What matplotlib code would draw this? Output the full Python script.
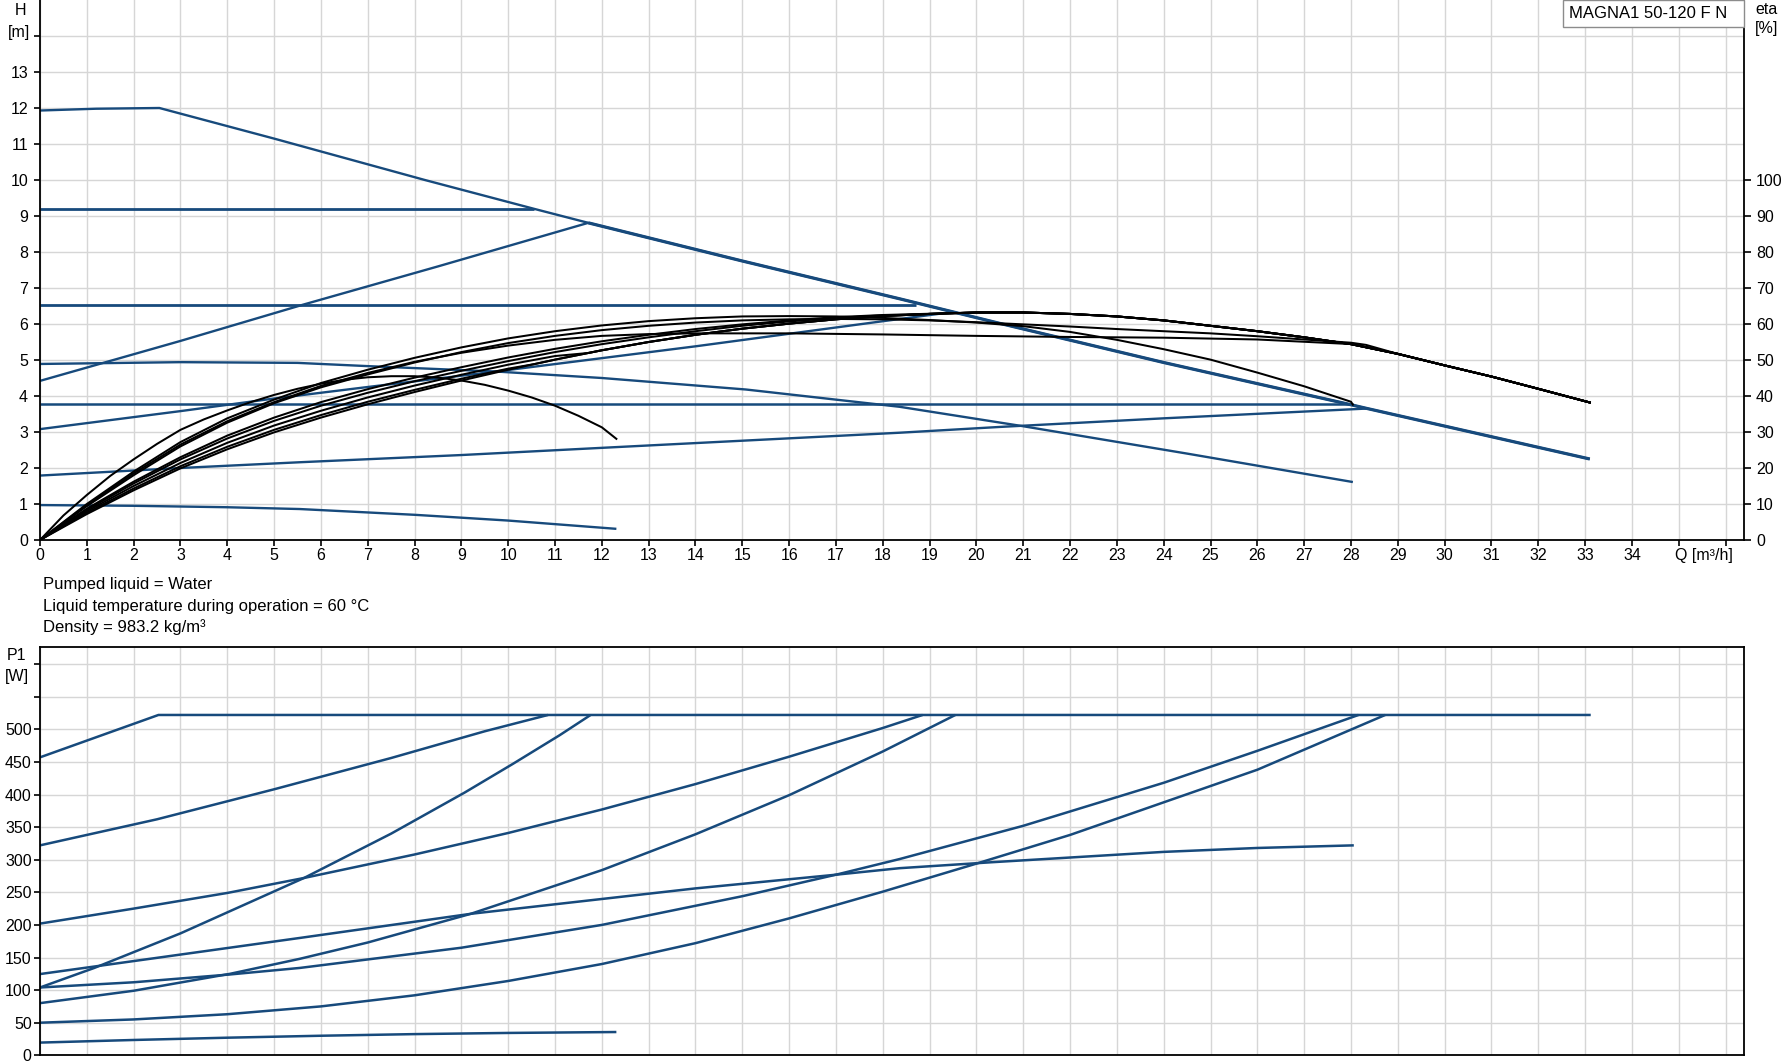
import matplotlib
matplotlib.use('Agg')
import matplotlib.pyplot as plt
from matplotlib.patches import Rectangle

plt.rcParams['font.family'] = ['Liberation Sans', 'DejaVu Sans']

# ---------------- data: head curves H [m] ----------------
q_hmax = [0, 1.2, 2.55, 5, 8.22, 10.55, 11.71, 15, 18.36, 20.49, 24, 27.99, 28.32, 33.1]
h_hmax = [11.93, 11.98, 12.0, 11.15, 10.0, 9.2, 8.81, 7.75, 6.70, 6.02, 4.93, 3.76, 3.66, 2.25]
q_cp92 = [0, 10.55]
h_cp92 = [9.2, 9.2]
q_pp442 = [0, 3, 5.6, 8.5, 11.71]
h_pp442 = [4.42, 5.53, 6.53, 7.6, 8.81]
q_cp655 = [0, 18.7]
h_cp655 = [6.54, 6.54]
q_pp31 = [0, 3, 5, 7, 9.74, 14, 17.9, 19.3]
h_pp31 = [3.08, 3.58, 3.93, 4.25, 4.68, 5.38, 6.06, 6.3]
q_cp38 = [0, 28.04]
h_cp38 = [3.79, 3.79]
q_pp18 = [0, 3, 5.55, 9, 12, 18.36, 20.49, 24, 28.32]
h_pp18 = [1.79, 2.0, 2.16, 2.36, 2.56, 2.98, 3.14, 3.38, 3.65]
q_c49 = [0, 3, 5.5, 7, 9.74, 12, 15.08, 18.36, 21, 24.5, 28.04]
h_c49 = [4.89, 4.94, 4.92, 4.83, 4.68, 4.5, 4.18, 3.7, 3.16, 2.4, 1.61]
q_hmin = [0, 2, 4, 5.55, 8, 10, 12.31]
h_hmin = [0.97, 0.95, 0.91, 0.86, 0.7, 0.54, 0.31]

# ---------------- data: efficiency curves eta [%] ----------------
q_emax = [0, 1, 2, 3, 4, 5, 6, 7, 8, 9, 10, 11, 12, 13, 14, 15, 16, 17, 18, 19, 20,
          21, 22, 23, 24, 25, 26, 27, 28, 29, 30, 31, 32, 33.1]
e_emax = [0, 7.2, 13.8, 19.9, 25.2, 29.9, 34.0, 37.7, 41.1, 44.3, 47.3, 50.1, 52.7, 55.0,
          57.0, 58.7, 60.1, 61.3, 62.2, 62.8, 63.2, 63.2, 62.8, 62.1, 61.0, 59.5, 58.0,
          56.3, 54.4, 51.7, 48.5, 45.4, 42.0, 38.2]
q_ecp92 = [0, 1, 2, 3, 4, 5, 6, 7, 8, 9, 10, 10.55]
e_ecp92 = [0, 7.6, 14.3, 20.5, 25.9, 30.6, 34.7, 38.4, 41.7, 44.8, 47.6, 48.84]
q_epp442 = [0, 1, 2, 3, 4, 5, 6, 7, 8, 9, 10, 11, 11.71]
e_epp442 = [0, 8.0, 15.0, 21.4, 27.0, 31.8, 35.9, 39.6, 42.9, 45.9, 48.7, 51.1, 51.95]
q_ecp655 = [0, 1, 2, 3, 4, 5, 6, 7, 8, 9, 10, 11, 12, 13, 14, 15, 16, 17, 18, 18.7]
e_ecp655 = [0, 8.4, 15.7, 22.4, 28.2, 33.1, 37.3, 40.9, 44.1, 47.0, 49.7, 52.2, 54.4, 56.3,
            58.0, 59.5, 60.7, 61.7, 62.4, 62.62]
q_epp31 = [0, 1, 2, 3, 4, 5, 6, 7, 8, 9, 10, 11, 12, 13, 14, 15, 16, 17, 18, 19, 19.3]
e_epp31 = [0, 8.7, 16.2, 23.0, 29.0, 34.0, 38.3, 41.9, 45.1, 48.0, 50.7, 53.1, 55.2, 57.0,
           58.6, 59.9, 61.0, 61.9, 62.5, 62.85, 62.92]
q_ecp38 = [0, 1, 2, 3, 4, 5, 6, 7, 8, 9, 10, 11, 12, 13, 14, 16, 18, 20, 22, 24, 26, 28.04]
e_ecp38 = [0, 9.7, 18.5, 26.5, 33.0, 38.3, 42.8, 46.4, 49.5, 52.0, 54.0, 55.6, 56.7, 57.2,
           57.4, 57.4, 57.1, 56.7, 56.4, 56.2, 55.7, 54.4]
q_epp18 = [0, 1, 2, 3, 4, 5, 6, 7, 8, 9, 10, 11, 12, 13, 14, 15, 16, 17, 18, 19, 20, 21,
           22, 23, 24, 25, 26, 27, 28, 28.32]
e_epp18 = [0, 9.4, 18.0, 26.0, 32.6, 38.0, 42.4, 46.0, 49.3, 52.2, 54.7, 56.7, 58.3, 59.5,
           60.4, 61.0, 61.3, 61.4, 61.3, 61.0, 60.5, 59.9, 59.3, 58.6, 58.0, 57.4, 56.6,
           55.7, 54.8, 54.2]
q_ec49 = [0, 1, 2, 3, 4, 5, 6, 7, 8, 9, 10, 11, 12, 13, 14, 15, 16, 17, 18, 19, 20, 21,
          22, 23, 24, 25, 26, 27, 28, 28.04]
e_ec49 = [0, 10.0, 19.0, 27.2, 33.8, 39.0, 43.6, 47.3, 50.6, 53.5, 56.0, 58.0, 59.6, 60.8,
          61.6, 62.1, 62.2, 62.1, 61.7, 61.1, 60.4, 59.4, 57.8, 55.6, 53.0, 50.1, 46.5,
          42.7, 38.4, 37.6]
q_emin = [0, 0.5, 1, 1.5, 2, 2.5, 3, 3.5, 4, 4.5, 5, 5.5, 6, 6.5, 7, 7.5, 8, 8.5, 9, 9.5,
          10, 10.5, 11, 11.5, 12, 12.31]
e_emin = [0, 6.8, 12.5, 17.8, 22.4, 26.7, 30.6, 33.5, 36.0, 38.3, 40.3, 42.0, 43.4, 44.5,
          45.2, 45.5, 45.5, 45.1, 44.3, 43.1, 41.5, 39.6, 37.3, 34.5, 31.3, 28.1]

# ---------------- data: power curves P1 [W] ----------------
q_pmax = [0, 2.53, 33.12]
p_pmax = [457, 522, 522]
q_pcp92 = [0, 2.5, 5, 7.5, 9.5, 10.85]
p_pcp92 = [322, 362, 408, 456, 497, 522]
q_ppp442 = [0, 1.16, 3, 5.64, 7.5, 9.07, 10.1, 11.1, 11.76]
p_ppp442 = [104, 134, 187, 272, 340, 403, 447, 491, 522]
q_pcp655 = [0, 2, 4, 5.64, 8, 10, 12, 14, 16, 18, 18.85]
p_pcp655 = [202, 225, 249, 272, 308, 341, 377, 416, 458, 502, 522]
q_ppp31 = [0, 2, 4.06, 5.55, 7, 9.2, 12, 14, 16, 18, 19.55]
p_ppp31 = [80, 99, 125, 148, 173, 217, 284, 339, 399, 466, 522]
q_pcp38 = [0, 2, 4.06, 5.55, 9, 12, 15, 17, 18.36, 21, 24, 26, 28.16]
p_pcp38 = [104, 112, 124, 134, 165, 200, 244, 277, 301, 352, 418, 467, 522]
q_ppp18 = [0, 2, 4, 6, 8, 10, 12, 14, 16, 18, 20, 22, 23.72, 26, 28.73]
p_ppp18 = [50, 55, 63, 75, 92, 114, 140, 172, 210, 251, 294, 338, 381, 438, 522]
q_pc49 = [0, 2.35, 5.55, 9.2, 14, 17, 18.36, 20.3, 24, 26, 28.06]
p_pc49 = [124.6, 148, 180, 217, 256, 277, 287, 296, 312, 318, 322]
q_pmin = [0, 2, 4, 6, 8, 10, 12.31]
p_pmin = [19.5, 23.5, 27, 30, 32.5, 34.3, 35.7]

x_ticks = list(range(0, 37))
x_labels = [str(i) for i in range(35)] + ['', '']
h_ticks = list(range(0, 15))
h_labels = [str(i) for i in range(14)] + ['']
eta_ticks = list(range(0, 101, 10))
p_ticks = list(range(0, 601, 50))
p_labels = [str(v) for v in range(0, 501, 50)] + ['', '']

fluid_lines = ["Pumped liquid = Water",
               "Liquid temperature during operation = 60 \u00b0C",
               "Density = 983.2 kg/m\u00b3"]
title_box = "MAGNA1 50-120 F N"


def with_max_tail(q, e, q_join):
    qq = list(q) + [x for x in q_emax if x > q_join]
    ee = list(e) + [y for x, y in zip(q_emax, e_emax) if x > q_join]
    return qq, ee


# ---------------- figure ----------------
W, H = 1784, 1061
fig = plt.figure(figsize=(W / 100, H / 100), dpi=100)

BLUE = '#174a7c'
GRID = '#d6d6d6'
FS = 11.5
LWB = 1.7
LWK = 1.45

ax = fig.add_axes([40 / W, 1 - 540 / H, 1704.3 / W, 540 / H])
ax.set_xlim(0, 36.4)
ax.set_ylim(0, 15)
ax.set_xticks(x_ticks)
ax.set_xticklabels(x_labels, fontsize=FS)
ax.set_yticks(h_ticks)
ax.set_yticklabels(h_labels, fontsize=FS)
ax.grid(True, color=GRID, lw=1.0)
ax.set_axisbelow(True)
for s in ['top', 'right']:
    ax.spines[s].set_visible(False)
for s in ['left', 'bottom']:
    ax.spines[s].set_linewidth(1.3)
    ax.spines[s].set_color('black')
ax.tick_params(axis='y', direction='out', length=4.6, width=1.2, pad=4.0)
ax.tick_params(axis='x', direction='out', length=4.3, width=1.2, pad=1.5)

head_curves = [(q_hmax, h_hmax, LWB), (q_cp92, h_cp92, 2.0), (q_pp442, h_pp442, LWB),
               (q_cp655, h_cp655, 2.0), (q_pp31, h_pp31, LWB), (q_cp38, h_cp38, 1.8),
               (q_pp18, h_pp18, LWB), (q_c49, h_c49, LWB), (q_hmin, h_hmin, LWB)]
for q, h, lw in head_curves:
    ax.plot(q, h, color=BLUE, lw=lw, solid_capstyle='butt', solid_joinstyle='round',
            zorder=2)
# the max curve beyond 11.71 m3/h is shared by several control curves (drawn thicker)
ax.plot([x for x in q_hmax if x >= 11.71],
        [y for x, y in zip(q_hmax, h_hmax) if x >= 11.71],
        color=BLUE, lw=2.3, solid_capstyle='butt', solid_joinstyle='round', zorder=2)

ax2 = ax.twinx()
ax2.set_ylim(0, 150)
ax2.set_yticks(eta_ticks)
ax2.set_yticklabels([str(v) for v in eta_ticks], fontsize=FS)
for s in ['top', 'left', 'bottom']:
    ax2.spines[s].set_visible(False)
ax2.spines['right'].set_linewidth(1.3)
ax2.tick_params(axis='y', direction='out', length=5, width=1.2, pad=3.5)

eta_curves = [
    (q_emax, e_emax),
    with_max_tail(q_ecp92, e_ecp92, 10.55),
    with_max_tail(q_epp442, e_epp442, 11.71),
    with_max_tail(q_ecp655, e_ecp655, 18.7),
    with_max_tail(q_epp31, e_epp31, 19.3),
    with_max_tail(q_ecp38, e_ecp38, 28.04),
    with_max_tail(q_epp18, e_epp18, 28.32),
    (q_ec49, e_ec49),
    (q_emin, e_emin),
]
for q, e in eta_curves:
    ax2.plot(q, e, color='black', lw=LWK, solid_joinstyle='round', zorder=3)

ax.annotate('Q [m\u00b3/h]', xy=(34.93, 0), xycoords=('data', 'axes fraction'),
            xytext=(0, -5.8), textcoords='offset points', ha='left', va='top',
            fontsize=FS)

# bottom power plot
ax3 = fig.add_axes([40 / W, (H - 1055.3) / H, 1704.3 / W, 408.6 / H])
ax3.set_xlim(0, 36.4)
ax3.set_ylim(0, 626.7)
ax3.set_xticks(x_ticks)
ax3.set_xticklabels([])
ax3.set_yticks(p_ticks)
ax3.set_yticklabels(p_labels, fontsize=FS)
ax3.grid(True, color=GRID, lw=1.0)
ax3.set_axisbelow(True)
for s in ax3.spines.values():
    s.set_linewidth(1.3)
    s.set_color('black')
ax3.tick_params(axis='y', direction='out', length=4.3, width=1.2, pad=1.7)
ax3.tick_params(axis='x', length=0)

for q, p in [(q_pmax, p_pmax), (q_pcp92, p_pcp92), (q_ppp442, p_ppp442),
             (q_pcp655, p_pcp655), (q_ppp31, p_ppp31), (q_pcp38, p_pcp38),
             (q_ppp18, p_ppp18), (q_pc49, p_pc49), (q_pmin, p_pmin)]:
    ax3.plot(q, p, color=BLUE, lw=LWB + 0.1, solid_capstyle='butt',
             solid_joinstyle='round', zorder=2)


def ftext(x, y, s, **kw):
    fig.text(x / W, 1 - y / H, s, fontsize=kw.pop('fontsize', FS), **kw)


ftext(20, 10.5, 'H', ha='center', va='center')
ftext(19, 32, '[m]', ha='center', va='center')
ftext(1767, 9.5, 'eta', ha='center', va='center')
ftext(1767, 29, '[%]', ha='center', va='center')
ftext(17, 656, 'P1', ha='center', va='center')
ftext(17, 677, '[W]', ha='center', va='center')

for i, line in enumerate(fluid_lines):
    ftext(43, 589 + 21.5 * i, line, ha='left', va='baseline', fontsize=12)

box = Rectangle((1563 / W, 1 - 27 / H), (1744.3 - 1563) / W, 27 / H,
                transform=fig.transFigure, facecolor='white', edgecolor='#8c8c8c',
                lw=1.0, zorder=5)
fig.patches.append(box)
ftext(1569, 13.5, title_box, ha='left', va='center', fontsize=12, zorder=6)

fig.savefig('out.png', dpi=100)
